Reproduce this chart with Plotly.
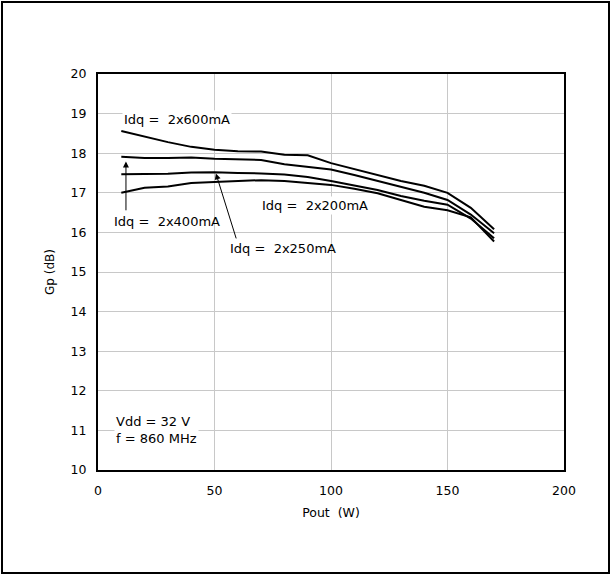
import plotly.graph_objects as go

# Output power (W)
pout = [10, 20, 30, 40, 50, 60, 70, 80, 90, 100, 110, 120, 130, 140, 150, 160, 170]

# Power gain (dB) per quiescent current
gp_600 = [18.56, 18.42, 18.28, 18.16, 18.09, 18.05, 18.04, 17.96, 17.95, 17.75, 17.60, 17.46, 17.30, 17.18, 17.00, 16.62, 16.08]
gp_400 = [17.91, 17.88, 17.88, 17.89, 17.86, 17.85, 17.83, 17.72, 17.65, 17.59, 17.45, 17.30, 17.15, 17.00, 16.82, 16.45, 15.98]
gp_250 = [17.47, 17.47, 17.48, 17.51, 17.52, 17.50, 17.49, 17.46, 17.40, 17.30, 17.18, 17.07, 16.92, 16.80, 16.70, 16.35, 15.85]
gp_200 = [17.00, 17.13, 17.16, 17.25, 17.27, 17.30, 17.32, 17.30, 17.25, 17.20, 17.10, 16.99, 16.82, 16.65, 16.56, 16.38, 15.77]

series = [
    ("Idq = 2x600mA", gp_600),
    ("Idq = 2x400mA", gp_400),
    ("Idq = 2x250mA", gp_250),
    ("Idq = 2x200mA", gp_200),
]

x_ticks = [0, 50, 100, 150, 200]
y_ticks = [10, 11, 12, 13, 14, 15, 16, 17, 18, 19, 20]

FONT = "DejaVu Sans"

fig = go.Figure()
for name, ys in series:
    fig.add_trace(go.Scatter(x=pout, y=ys, mode="lines", name=name,
                             line=dict(color="black", width=2),
                             showlegend=False))

W, H = 611, 576
L, R, T, B = 98, 564, 74, 470
pw, ph = R - L, B - T

fig.update_layout(
    width=W, height=H,
    margin=dict(l=L, r=W - R, t=T, b=H - B),
    paper_bgcolor="white", plot_bgcolor="white",
    font=dict(family=FONT, size=12.5, color="black"),
    showlegend=False,
)
fig.update_xaxes(
    range=[0, 200], tickvals=x_ticks, ticktext=[str(v) for v in x_ticks],
    showgrid=True, gridcolor="#c8c8c8", gridwidth=1,
    showline=True, linecolor="black", linewidth=2, mirror=True,
    ticks="", ticklabelstandoff=8, zeroline=False,
    title=dict(text="Pout  (W)", font=dict(family=FONT, size=12.5), standoff=11),
)
fig.update_yaxes(
    range=[10, 20], tickvals=y_ticks, ticktext=[str(v) for v in y_ticks],
    showgrid=True, gridcolor="#c8c8c8", gridwidth=1,
    showline=True, linecolor="black", linewidth=2, mirror=True,
    ticks="", ticklabelstandoff=7, zeroline=False,
    title=dict(text="Gp (dB)", font=dict(family=FONT, size=12), standoff=13),
)

afont = dict(family=FONT, size=13, color="black")
# Labels
fig.add_annotation(x=33.7, y=18.86, text="Idq =  2x600mA", showarrow=False,
                   font=afont, bgcolor="white")
fig.add_annotation(x=29.5, y=16.27, text="Idq =  2x400mA", showarrow=False,
                   font=afont)
fig.add_annotation(x=79.2, y=15.6, text="Idq =  2x250mA", showarrow=False,
                   font=afont)
fig.add_annotation(x=93.3, y=16.69, text="Idq =  2x200mA", showarrow=False,
                   font=afont, bgcolor="white")
fig.add_annotation(x=6.9, y=11.02, text="Vdd = 32 V<br>f = 860 MHz", showarrow=False,
                   font=afont, bgcolor="white", xanchor="left", align="left")
# Arrows
fig.add_annotation(x=12.0, y=17.79, ax=12.0, ay=16.52, axref="x", ayref="y",
                   text="", showarrow=True, arrowhead=2, arrowsize=1.2,
                   arrowwidth=1, arrowcolor="black")
fig.add_annotation(x=50.6, y=17.49, ax=59.5, ay=15.81, axref="x", ayref="y",
                   text="", showarrow=True, arrowhead=2, arrowsize=1.2,
                   arrowwidth=1, arrowcolor="black")

# Outer frame around the whole picture
fig.add_shape(type="rect", xref="paper", yref="paper",
              x0=(2 - L) / pw, x1=(609 - L) / pw,
              y0=(B - 573) / ph, y1=(B - 2) / ph,
              line=dict(color="black", width=2), layer="above")

fig.write_html("out.html")
